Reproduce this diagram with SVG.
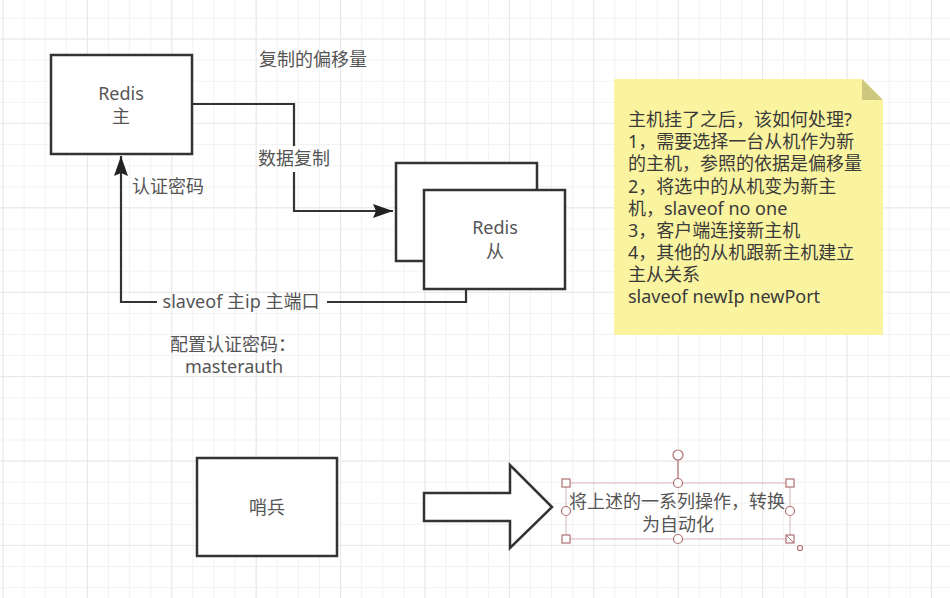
<svg xmlns="http://www.w3.org/2000/svg" width="950" height="598" viewBox="0 0 950 598">
<style>
  text { font-family: "Noto Sans", "Noto Sans CJK SC", sans-serif; font-size: 18px; fill: #555; }
  .c { text-anchor: middle; }
  .note text { fill: #3a3a3a; }
  .box { fill: #fff; stroke: #333; stroke-width: 2.5; }
  .edge { fill: none; stroke: #333; stroke-width: 2.2; }
  .h { fill: #fff; stroke: #b07070; stroke-width: 1.2; }
</style>
<defs>
  <pattern id="minor" patternUnits="userSpaceOnUse" x="2.5" y="17.5" width="21.1" height="21.1">
    <path d="M0.5 0V21.1M0 0.5H21.1" stroke="#f2f2f2" stroke-width="1" fill="none"/>
  </pattern>
  <pattern id="major" patternUnits="userSpaceOnUse" x="2.5" y="38.5" width="84.4" height="84.4">
    <path d="M0.5 0V84.4M0 0.5H84.4" stroke="#e8e8e8" stroke-width="1" fill="none"/>
  </pattern>
  <marker id="arr" markerUnits="userSpaceOnUse" viewBox="0 0 20 14" refX="20" refY="7" markerWidth="20" markerHeight="14" orient="auto">
    <path d="M0 0L20 7L0 14L3 7Z" fill="#222"/>
  </marker>
</defs>
<rect width="950" height="598" fill="#fff"/>
<rect width="950" height="598" fill="url(#minor)"/>
<rect width="950" height="598" fill="url(#major)"/>

<g id="edges">
  <path class="edge" d="M192 104H294V146"/>
  <path class="edge" d="M294 172V211H393" marker-end="url(#arr)"/>
  <path class="edge" d="M466 289V302H327"/>
  <path class="edge" d="M157 302H121V156" marker-end="url(#arr)"/>
</g>

<g id="redis-master">
  <rect class="box" x="51" y="55" width="141" height="99"/>
  <text class="c" x="121" y="100">Redis</text>
  <text class="c" x="121" y="123">主</text>
</g>

<g id="redis-slave">
  <rect class="box" x="396" y="163" width="141" height="98"/>
  <rect class="box" x="424" y="190" width="141" height="99"/>
  <text class="c" x="495" y="234">Redis</text>
  <text class="c" x="495" y="258">从</text>
</g>

<g id="labels">
  <text class="c" x="313" y="66">复制的偏移量</text>
  <text class="c" x="294" y="165">数据复制</text>
  <text class="c" x="168" y="193">认证密码</text>
  <text class="c" x="241" y="308">slaveof 主ip 主端口</text>
  <text x="170" y="351">配置认证密码：</text>
  <text class="c" x="234" y="373">masterauth</text>
</g>

<g id="note" class="note">
  <path d="M614 79H862L883 100V335H614Z" fill="#faf4a0"/>
  <path d="M862 79V100H883Z" fill="#cdc77f"/>
  <text x="628" y="126">主机挂了之后，该如何处理?</text>
  <text x="628" y="148">1，需要选择一台从机作为新</text>
  <text x="628" y="170">的主机，参照的依据是偏移量</text>
  <text x="628" y="193">2，将选中的从机变为新主</text>
  <text x="628" y="215">机，slaveof no one</text>
  <text x="628" y="237">3，客户端连接新主机</text>
  <text x="628" y="259">4，其他的从机跟新主机建立</text>
  <text x="628" y="281">主从关系</text>
  <text x="628" y="303">slaveof newIp newPort</text>
</g>

<g id="sentinel">
  <rect class="box" x="197" y="458" width="140" height="98"/>
  <text class="c" x="267" y="514">哨兵</text>
</g>

<g id="big-arrow">
  <path d="M424 493H510V465L552 507L510 548V521H424Z" fill="#fff" stroke="#333" stroke-width="2.5" stroke-linejoin="miter"/>
</g>

<g id="automation">
  <rect x="566" y="483" width="224" height="56" fill="none" stroke="#d9b3b3" stroke-width="1"/>
  <text class="c" x="677" y="508">将上述的一系列操作，转换</text>
  <text class="c" x="678" y="531">为自动化</text>
  <line x1="678" y1="460" x2="678" y2="479" stroke="#b07070" stroke-width="1.2"/>
  <circle class="h" cx="678" cy="455" r="5"/>
  <rect class="h" x="562" y="479" width="8" height="8"/>
  <rect class="h" x="786" y="479" width="8" height="8"/>
  <rect class="h" x="562" y="535" width="8" height="8"/>
  <rect class="h" x="786" y="535" width="8" height="8"/>
  <line x1="786" y1="535" x2="794" y2="543" stroke="#b07070" stroke-width="1"/>
  <circle class="h" cx="800" cy="548" r="2.5"/>
  <circle class="h" cx="678" cy="483" r="4.5"/>
  <circle class="h" cx="566" cy="511" r="4.5"/>
  <circle class="h" cx="790" cy="511" r="4.5"/>
  <circle class="h" cx="678" cy="539" r="4.5"/>
</g>
</svg>
